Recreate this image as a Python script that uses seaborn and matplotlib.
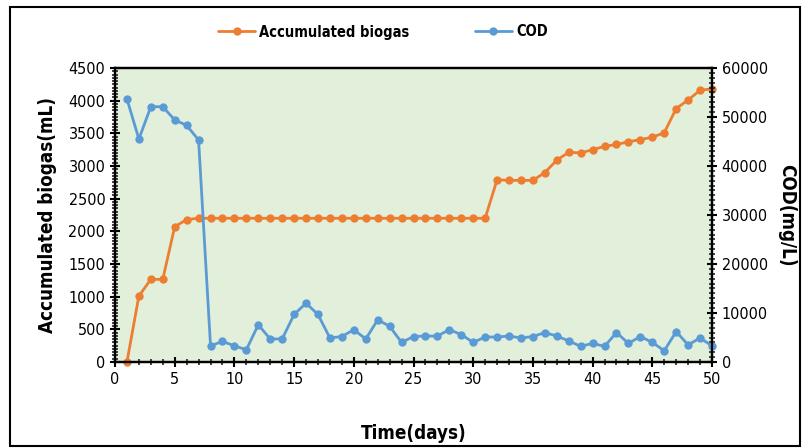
import matplotlib
matplotlib.use('Agg')
import matplotlib.pyplot as plt
from matplotlib.patches import Rectangle
from matplotlib.ticker import MultipleLocator
import seaborn as sns
import pandas as pd

days = list(range(1, 51))
biogas = [0, 1010, 1265, 1265, 2070, 2180, 2200, 2200, 2200, 2200,
          2200, 2200, 2200, 2200, 2200, 2200, 2200, 2200, 2200, 2200,
          2200, 2200, 2200, 2200, 2200, 2200, 2200, 2200, 2200, 2200,
          2200, 2790, 2780, 2780, 2780, 2900, 3090, 3210, 3200, 3250,
          3300, 3330, 3370, 3405, 3440, 3510, 3880, 4010, 4160, 4180]
cod = [53700, 45500, 52100, 52100, 49400, 48300, 45300, 3300, 4200, 3300,
       2500, 7600, 4700, 4700, 9700, 12000, 9700, 4900, 5200, 6600,
       4700, 8600, 7300, 4000, 5200, 5300, 5300, 6600, 5600, 4000,
       5100, 5100, 5300, 4900, 5200, 6000, 5300, 4300, 3200, 3800,
       3200, 6000, 3800, 5200, 4000, 2300, 6200, 3500, 4900, 3300]

df = pd.DataFrame({'day': days, 'biogas': biogas, 'cod': cod})

sns.set_style('ticks', {'text.color': 'black', 'axes.labelcolor': 'black'})
plt.rcParams['font.family'] = ['DejaVu Sans']
plt.rcParams['font.stretch'] = 'condensed'

orange = '#ED7D31'
blue = '#5B9BD5'

fig = plt.figure(figsize=(8.11, 4.48), dpi=100)
ax = fig.add_axes([115 / 811, 86 / 448, 597 / 811, 294 / 448])
ax.set_facecolor('#E2EFDA')
ax2 = ax.twinx()

sns.lineplot(data=df, x='day', y='cod', ax=ax2, color=blue, marker='o',
             markersize=6, markeredgewidth=0, linewidth=2, clip_on=False,
             label='COD', legend=False)
sns.lineplot(data=df, x='day', y='biogas', ax=ax, color=orange, marker='o',
             markersize=6, markeredgewidth=0, linewidth=2, clip_on=False,
             label='Accumulated biogas', legend=False)

ax.set_xlim(0, 50)
ax.set_ylim(0, 4500)
ax2.set_ylim(0, 60000)
ax.xaxis.set_major_locator(MultipleLocator(5))
ax.xaxis.set_minor_locator(MultipleLocator(1))
ax.yaxis.set_major_locator(MultipleLocator(500))
ax.yaxis.set_minor_locator(MultipleLocator(50))
ax2.yaxis.set_major_locator(MultipleLocator(10000))
ax2.yaxis.set_minor_locator(MultipleLocator(1000))

for a in (ax, ax2):
    for s in a.spines.values():
        s.set_linewidth(1.6)
        s.set_color('black')
    a.tick_params(which='major', direction='inout', length=7, width=1.5,
                  labelsize=11.5, colors='black')
    a.tick_params(which='minor', direction='inout', length=4, width=1.2)

ax.set_xlabel('Time(days)', fontsize=13.5, fontweight='bold', labelpad=27)
ax.set_ylabel('Accumulated biogas(mL)', fontsize=13.5, fontweight='bold', labelpad=8)
ax2.set_ylabel('COD(mg/L)', fontsize=13.5, fontweight='bold', rotation=270, labelpad=20)

h1, l1 = ax.get_legend_handles_labels()
h2, l2 = ax2.get_legend_handles_labels()
fig.legend(h1 + h2, l1 + l2, loc='center', bbox_to_anchor=(383 / 811, 1 - 32 / 448),
           ncol=2, frameon=False, handlelength=2.5, handletextpad=0.3,
           columnspacing=4.5,
           prop={'weight': 'bold', 'size': 10.5, 'stretch': 'condensed'})

fig.patches.append(Rectangle((10 / 811, 2 / 448), 790 / 811, 439 / 448,
                             transform=fig.transFigure, fill=False,
                             edgecolor='black', linewidth=1.5))

fig.savefig('out.png', dpi=100)
